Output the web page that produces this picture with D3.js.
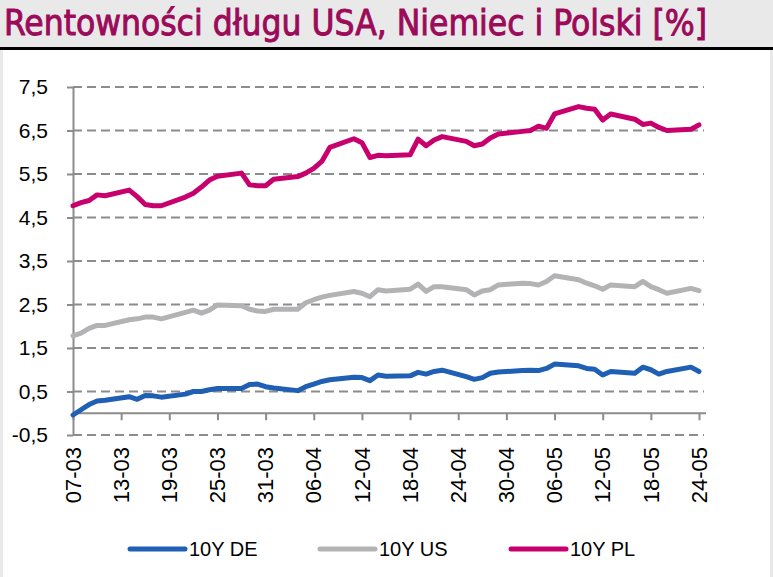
<!DOCTYPE html>
<html>
<head>
<meta charset="utf-8">
<script src="https://cdn.jsdelivr.net/npm/d3@7"></script>
<style>
  html, body { margin: 0; padding: 0; background: #fff; }
  svg { display: block; }
</style>
</head>
<body>
<script>
// ---- DATA ----
const titleText = "Rentowności długu USA, Niemiec i Polski [%]";
const dates = [
  "2022-03-07","2022-03-08","2022-03-09","2022-03-10","2022-03-11",
  "2022-03-14","2022-03-15","2022-03-16","2022-03-17","2022-03-18",
  "2022-03-21","2022-03-22","2022-03-23","2022-03-24","2022-03-25",
  "2022-03-28","2022-03-29","2022-03-30","2022-03-31","2022-04-01",
  "2022-04-04","2022-04-05","2022-04-06","2022-04-07","2022-04-08",
  "2022-04-11","2022-04-12","2022-04-13","2022-04-14","2022-04-15",
  "2022-04-18","2022-04-19","2022-04-20","2022-04-21","2022-04-22",
  "2022-04-25","2022-04-26","2022-04-27","2022-04-28","2022-04-29",
  "2022-05-02","2022-05-03","2022-05-04","2022-05-05","2022-05-06",
  "2022-05-09","2022-05-10","2022-05-11","2022-05-12","2022-05-13",
  "2022-05-16","2022-05-17","2022-05-18","2022-05-19","2022-05-20",
  "2022-05-23","2022-05-24"
];
const de10y = [
  -0.04, 0.08, 0.20, 0.28, 0.30,
  0.38, 0.32, 0.41, 0.40, 0.37,
  0.44, 0.50, 0.50, 0.54, 0.57,
  0.57, 0.66, 0.67, 0.61, 0.58,
  0.52, 0.61, 0.67, 0.73, 0.77,
  0.83, 0.82, 0.75, 0.88, 0.85,
  0.86, 0.94, 0.90, 0.96, 0.99,
  0.84, 0.78, 0.82, 0.92, 0.95,
  0.98, 0.99, 0.98, 1.03, 1.13,
  1.09, 1.03, 1.01, 0.88, 0.96,
  0.92, 1.06, 1.00, 0.90, 0.96,
  1.06, 0.96
];
const us10y = [
  1.78, 1.84, 1.95, 2.02, 2.02,
  2.15, 2.17, 2.21, 2.21, 2.17,
  2.32, 2.37, 2.30, 2.37, 2.49,
  2.47, 2.39, 2.35, 2.34, 2.39,
  2.39, 2.54, 2.61, 2.67, 2.71,
  2.80, 2.76, 2.68, 2.84, 2.81,
  2.85, 2.97, 2.80, 2.91, 2.91,
  2.84, 2.72, 2.81, 2.84, 2.95,
  2.99, 2.98, 2.95, 3.03, 3.16,
  3.07, 2.99, 2.93, 2.85, 2.95,
  2.91, 3.03, 2.91, 2.84, 2.76,
  2.87, 2.82
];
const pl10y = [
  4.77, 4.84, 4.89, 5.02, 5.00,
  5.13, 4.98, 4.80, 4.77, 4.77,
  4.97, 5.06, 5.20, 5.36, 5.45,
  5.52, 5.25, 5.23, 5.23, 5.38,
  5.44, 5.52, 5.63, 5.79, 6.11,
  6.31, 6.22, 5.88, 5.93, 5.92,
  5.94, 6.30, 6.15, 6.28, 6.36,
  6.25, 6.15, 6.19, 6.33, 6.42,
  6.48, 6.50, 6.60, 6.55, 6.88,
  7.05, 7.01, 6.99, 6.74, 6.88,
  6.76, 6.64, 6.67, 6.57, 6.50,
  6.53, 6.63
];
const seriesNames = ["10Y DE", "10Y US", "10Y PL"];
const seriesColors = ["#1f5fb4", "#b3b3b5", "#c8006e"];
const yTicks = [-0.5, 0.5, 1.5, 2.5, 3.5, 4.5, 5.5, 6.5, 7.5];
const xTickLabels = ["07-03","13-03","19-03","25-03","31-03","06-04","12-04","18-04","24-04","30-04","06-05","12-05","18-05","24-05"];

// ---- CHART ----
const W = 773, H = 577;
const parse = d3.timeParse("%Y-%m-%d");
const svg = d3.select("body").append("svg").attr("width", W).attr("height", H);

// frame & title band
svg.append("rect").attr("x", 0).attr("y", 0).attr("width", W).attr("height", H).attr("fill", "#e9e9e9");
svg.append("rect").attr("x", 3).attr("y", 50).attr("width", W - 6).attr("height", H - 50).attr("fill", "#ffffff");
svg.append("rect").attr("x", 0).attr("y", 47).attr("width", W).attr("height", 3).attr("fill", "#000");
const title = svg.append("text")
  .attr("x", 0).attr("y", 0)
  .attr("font-family", "'DejaVu Sans Condensed', 'DejaVu Sans', sans-serif")
  .attr("font-stretch", "condensed")
  .attr("font-size", 35)
  .attr("fill", "#9c0a5a")
  .attr("stroke", "#9c0a5a")
  .attr("stroke-width", 0.9)
  .text(titleText);
const natural = title.node().getComputedTextLength();
const sx = Math.min(1, 728 / natural);
title.attr("transform", `translate(4,35) scale(${sx},1)`);

const x = d3.scaleTime()
  .domain([parse(dates[0]), parse(dates[dates.length - 1])])
  .range([73, 699]);
const y = d3.scaleLinear().domain([-0.5, 7.5]).range([435, 87]);

const axisColor = "#8c8c8c";
const fontFam = "'Liberation Sans', Arial, sans-serif";

// gridlines
svg.append("g").selectAll("line").data(yTicks).join("line")
  .attr("x1", 73).attr("x2", 704)
  .attr("y1", d => y(d)).attr("y2", d => y(d))
  .attr("stroke", axisColor).attr("stroke-width", 2)
  .attr("stroke-dasharray", "9,5");

// y axis
const yAxis = svg.append("g").attr("transform", "translate(73,0)")
  .call(d3.axisLeft(y).tickValues(yTicks).tickSize(6).tickSizeOuter(0).tickPadding(19)
    .tickFormat(d => d.toFixed(1).replace(".", ",")));
yAxis.select(".domain").attr("stroke", axisColor).attr("stroke-width", 2);
yAxis.selectAll(".tick line").attr("stroke", axisColor).attr("stroke-width", 2);
yAxis.selectAll(".tick text").attr("font-family", fontFam).attr("font-size", 21).attr("fill", "#000");

// x axis at 0
const tickDates = xTickLabels.map((s, i) => d3.timeDay.offset(parse(dates[0]), i * 6));
const xAxis = svg.append("g").attr("transform", `translate(0,${y(0)})`)
  .call(d3.axisBottom(x).tickValues(tickDates).tickSize(7).tickSizeOuter(0).tickFormat(""));
xAxis.select(".domain").attr("d", `M73,0H706`).attr("stroke", axisColor).attr("stroke-width", 2);
xAxis.selectAll(".tick line").attr("stroke", axisColor).attr("stroke-width", 2);

// x labels
svg.append("g").selectAll("text").data(tickDates).join("text")
  .attr("transform", d => `translate(${x(d)},447) rotate(-90)`)
  .attr("text-anchor", "end")
  .attr("dy", "0.35em")
  .attr("font-family", fontFam).attr("font-size", 22).attr("fill", "#000")
  .text((d, i) => xTickLabels[i]);

// lines
const allSeries = [de10y, us10y, pl10y].map((vals, k) => ({
  name: seriesNames[k], color: seriesColors[k],
  values: vals.map((v, i) => ({ date: parse(dates[i]), v }))
}));
const line = d3.line().x(d => x(d.date)).y(d => y(d.v));
svg.append("g").selectAll("path").data(allSeries).join("path")
  .attr("d", s => line(s.values))
  .attr("fill", "none")
  .attr("stroke", s => s.color)
  .attr("stroke-width", 5)
  .attr("stroke-linejoin", "round")
  .attr("stroke-linecap", "round");

// legend
const legendX = [130, 320, 511];
const lg = svg.append("g").selectAll("g").data(allSeries).join("g")
  .attr("transform", (s, i) => `translate(${legendX[i]},549)`);
lg.append("line").attr("x1", 0).attr("x2", 55).attr("y1", 0).attr("y2", 0)
  .attr("stroke", s => s.color).attr("stroke-width", 5).attr("stroke-linecap", "round");
lg.append("text").attr("x", 59).attr("y", 7)
  .attr("font-family", fontFam).attr("font-size", 20).attr("fill", "#000")
  .text(s => s.name);
</script>
</body>
</html>
